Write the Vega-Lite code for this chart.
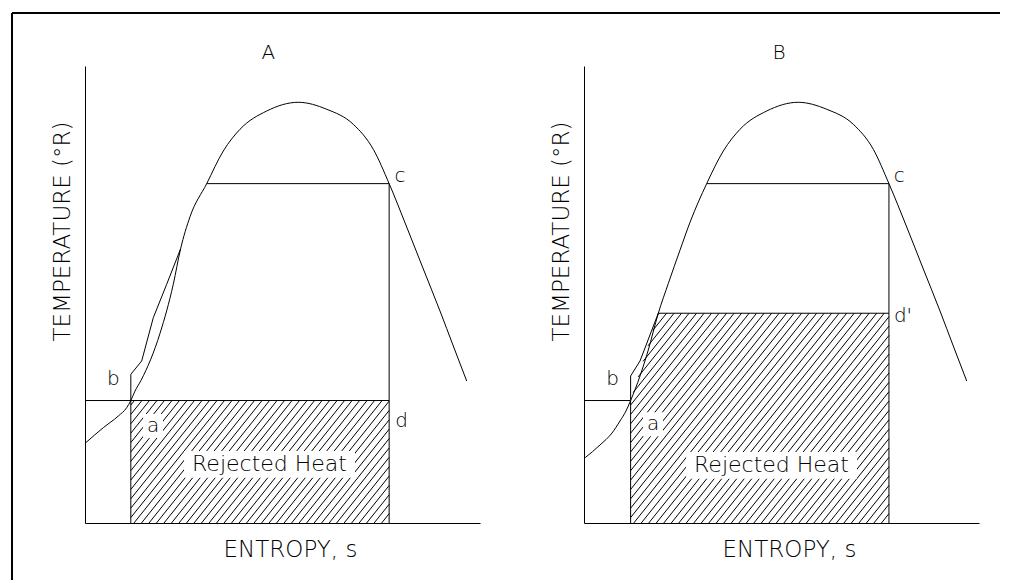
{
  "$schema": "https://vega.github.io/schema/vega-lite/v6.json",
  "padding": {"left": 11, "top": 11, "right": 0, "bottom": 0},
  "autosize": {"type": "pad"},
  "bounds": "flush",
  "spacing": 104,
  "background": "white",
  "config": {
    "view": {"stroke": null},
    "axis": {"domainColor": "black", "domainWidth": 1, "ticks": false, "labels": false, "grid": false,
             "titleFont": "DejaVu Sans", "titleFontSize": 23, "titleFontWeight": 200, "titleColor": "black",
             "titleAlign": "center", "titleBaseline": "middle"},
    "axisX": {"titleX": 205, "titleY": 26},
    "axisY": {"titleX": -23, "titleY": 165, "titleAngle": -90}
  },
  "datasets": {
    "frame": [
      {"s": -1.848, "T": 1116, "s2": -1.848, "T2": -125},
      {"s": -1.848, "T": 1116, "s2": 23.165, "T2": 1116}
    ],
    "curvesA": [
      {"seg": "dome", "i": 1, "s": 0.02, "T": 175.7},
      {"seg": "dome", "i": 2, "s": 0.463, "T": 208.5},
      {"seg": "dome", "i": 3, "s": 0.843, "T": 234.1},
      {"seg": "dome", "i": 4, "s": 1.056, "T": 252.3},
      {"seg": "dome", "i": 5, "s": 1.16, "T": 268},
      {"seg": "dome", "i": 6, "s": 1.266, "T": 288.8},
      {"seg": "dome", "i": 7, "s": 1.418, "T": 312},
      {"seg": "dome", "i": 8, "s": 1.899, "T": 415},
      {"seg": "dome", "i": 9, "s": 2.235, "T": 522.3},
      {"seg": "dome", "i": 10, "s": 2.42, "T": 600},
      {"seg": "dome", "i": 11, "s": 2.658, "T": 670},
      {"seg": "dome", "i": 12, "s": 3.081, "T": 742.6},
      {"seg": "dome", "i": 13, "s": 3.501, "T": 814.0},
      {"seg": "dome", "i": 14, "s": 3.924, "T": 861.5},
      {"seg": "dome", "i": 15, "s": 4.6, "T": 901.5},
      {"seg": "dome", "i": 16, "s": 5.4, "T": 920.6},
      {"seg": "dome", "i": 17, "s": 6.119, "T": 905.3},
      {"seg": "dome", "i": 18, "s": 6.792, "T": 872.4},
      {"seg": "dome", "i": 19, "s": 7.299, "T": 817.7},
      {"seg": "dome", "i": 20, "s": 7.7, "T": 742.6},
      {"seg": "dome", "i": 21, "s": 8.144, "T": 647.7},
      {"seg": "dome", "i": 22, "s": 8.565, "T": 555.8},
      {"seg": "dome", "i": 23, "s": 8.987, "T": 463.9},
      {"seg": "dome", "i": 24, "s": 9.324, "T": 387.3},
      {"seg": "dome", "i": 25, "s": 9.663, "T": 310.7},
      {"seg": "process", "i": 1, "s": 1.16, "T": 268},
      {"seg": "process", "i": 2, "s": 1.16, "T": 325.4},
      {"seg": "process", "i": 3, "s": 1.435, "T": 354.5},
      {"seg": "process", "i": 4, "s": 1.729, "T": 449.2},
      {"seg": "process", "i": 5, "s": 2.068, "T": 522.3},
      {"seg": "process", "i": 6, "s": 2.42, "T": 600}
    ],
    "rulesA": [
      {"s": 3.081, "T": 742.6, "s2": 7.7, "T2": 742.6},
      {"s": 7.7, "T": 742.6, "s2": 7.7, "T2": 0},
      {"s": 0, "T": 268, "s2": 7.7, "T2": 268},
      {"s": 1.16, "T": 0, "s2": 1.16, "T2": 268}
    ],
    "hatchA": [
      {"s": 7.51, "T": 0, "s2": 7.7, "T2": 20.52},
      {"s": 7.32, "T": 0, "s2": 7.7, "T2": 41.04},
      {"s": 7.13, "T": 0, "s2": 7.7, "T2": 61.56},
      {"s": 6.94, "T": 0, "s2": 7.7, "T2": 82.08},
      {"s": 6.75, "T": 0, "s2": 7.7, "T2": 102.6},
      {"s": 6.56, "T": 0, "s2": 7.7, "T2": 123.12},
      {"s": 6.37, "T": 0, "s2": 7.7, "T2": 143.64},
      {"s": 6.18, "T": 0, "s2": 7.7, "T2": 164.16},
      {"s": 5.99, "T": 0, "s2": 7.7, "T2": 184.68},
      {"s": 5.8, "T": 0, "s2": 7.7, "T2": 205.2},
      {"s": 5.61, "T": 0, "s2": 7.7, "T2": 225.72},
      {"s": 5.42, "T": 0, "s2": 7.7, "T2": 246.24},
      {"s": 5.23, "T": 0, "s2": 7.7, "T2": 266.76},
      {"s": 5.04, "T": 0, "s2": 7.5215, "T2": 268},
      {"s": 4.85, "T": 0, "s2": 7.3315, "T2": 268},
      {"s": 4.66, "T": 0, "s2": 7.1415, "T2": 268},
      {"s": 4.47, "T": 0, "s2": 6.9515, "T2": 268},
      {"s": 4.28, "T": 0, "s2": 6.7615, "T2": 268},
      {"s": 4.09, "T": 0, "s2": 6.5715, "T2": 268},
      {"s": 3.9, "T": 0, "s2": 6.3815, "T2": 268},
      {"s": 3.71, "T": 0, "s2": 6.1915, "T2": 268},
      {"s": 3.52, "T": 0, "s2": 6.0015, "T2": 268},
      {"s": 3.33, "T": 0, "s2": 5.8115, "T2": 268},
      {"s": 3.14, "T": 0, "s2": 5.6215, "T2": 268},
      {"s": 2.95, "T": 0, "s2": 5.4315, "T2": 268},
      {"s": 2.76, "T": 0, "s2": 5.2415, "T2": 268},
      {"s": 2.57, "T": 0, "s2": 5.0515, "T2": 268},
      {"s": 2.38, "T": 0, "s2": 4.8615, "T2": 268},
      {"s": 2.19, "T": 0, "s2": 4.6715, "T2": 268},
      {"s": 2.0, "T": 0, "s2": 4.4815, "T2": 268},
      {"s": 1.81, "T": 0, "s2": 4.2915, "T2": 268},
      {"s": 1.62, "T": 0, "s2": 4.1015, "T2": 268},
      {"s": 1.43, "T": 0, "s2": 3.9115, "T2": 268},
      {"s": 1.24, "T": 0, "s2": 3.7215, "T2": 268},
      {"s": 1.16, "T": 11.88, "s2": 3.5315, "T2": 268},
      {"s": 1.16, "T": 32.4, "s2": 3.3415, "T2": 268},
      {"s": 1.16, "T": 52.92, "s2": 3.1515, "T2": 268},
      {"s": 1.16, "T": 73.44, "s2": 2.9615, "T2": 268},
      {"s": 1.16, "T": 93.96, "s2": 2.7715, "T2": 268},
      {"s": 1.16, "T": 114.48, "s2": 2.5815, "T2": 268},
      {"s": 1.16, "T": 135.0, "s2": 2.3915, "T2": 268},
      {"s": 1.16, "T": 155.52, "s2": 2.2015, "T2": 268},
      {"s": 1.16, "T": 176.04, "s2": 2.0115, "T2": 268},
      {"s": 1.16, "T": 196.56, "s2": 1.8215, "T2": 268},
      {"s": 1.16, "T": 217.08, "s2": 1.6315, "T2": 268},
      {"s": 1.16, "T": 237.6, "s2": 1.4415, "T2": 268},
      {"s": 1.16, "T": 258.12, "s2": 1.2515, "T2": 268}
    ],
    "labelsA": [
      {"label": "A", "s": 4.641, "T": 1029},
      {"label": "b", "s": 0.716, "T": 314.4},
      {"label": "a", "s": 1.722, "T": 212.3},
      {"label": "c", "s": 7.975, "T": 759.3},
      {"label": "d", "s": 8.018, "T": 223.2},
      {"label": "Rejected Heat", "s": 4.671, "T": 128.4}
    ],
    "curvesB": [
      {"seg": "dome", "i": 1, "s": 0.03, "T": 143},
      {"seg": "dome", "i": 2, "s": 0.405, "T": 170.7},
      {"seg": "dome", "i": 3, "s": 0.709, "T": 196.9},
      {"seg": "dome", "i": 4, "s": 0.911, "T": 223.2},
      {"seg": "dome", "i": 5, "s": 1.063, "T": 245.1},
      {"seg": "dome", "i": 6, "s": 1.18, "T": 268},
      {"seg": "dome", "i": 7, "s": 1.418, "T": 321.7},
      {"seg": "dome", "i": 8, "s": 1.62, "T": 376.4},
      {"seg": "dome", "i": 9, "s": 1.881, "T": 459},
      {"seg": "dome", "i": 10, "s": 2.134, "T": 524},
      {"seg": "dome", "i": 11, "s": 2.43, "T": 597},
      {"seg": "dome", "i": 12, "s": 2.684, "T": 658},
      {"seg": "dome", "i": 13, "s": 3.106, "T": 742.6},
      {"seg": "dome", "i": 14, "s": 3.527, "T": 814.0},
      {"seg": "dome", "i": 15, "s": 3.949, "T": 861.5},
      {"seg": "dome", "i": 16, "s": 4.625, "T": 901.5},
      {"seg": "dome", "i": 17, "s": 5.425, "T": 920.6},
      {"seg": "dome", "i": 18, "s": 6.144, "T": 905.3},
      {"seg": "dome", "i": 19, "s": 6.818, "T": 872.4},
      {"seg": "dome", "i": 20, "s": 7.324, "T": 817.7},
      {"seg": "dome", "i": 21, "s": 7.72, "T": 742.6},
      {"seg": "dome", "i": 22, "s": 8.17, "T": 647.7},
      {"seg": "dome", "i": 23, "s": 8.59, "T": 555.8},
      {"seg": "dome", "i": 24, "s": 9.013, "T": 463.9},
      {"seg": "dome", "i": 25, "s": 9.349, "T": 387.3},
      {"seg": "dome", "i": 26, "s": 9.689, "T": 310.7},
      {"seg": "process", "i": 1, "s": 1.18, "T": 268},
      {"seg": "process", "i": 2, "s": 1.18, "T": 321.7},
      {"seg": "process", "i": 3, "s": 1.418, "T": 354.5},
      {"seg": "process", "i": 4, "s": 1.881, "T": 459}
    ],
    "rulesB": [
      {"s": 3.106, "T": 742.6, "s2": 7.72, "T2": 742.6},
      {"s": 7.72, "T": 742.6, "s2": 7.72, "T2": 0},
      {"s": 1.881, "T": 459, "s2": 7.72, "T2": 459},
      {"s": 0, "T": 268, "s2": 1.18, "T2": 268},
      {"s": 1.18, "T": 0, "s2": 1.18, "T2": 268}
    ],
    "hatchB": [
      {"s": 7.53, "T": 0, "s2": 7.72, "T2": 20.52},
      {"s": 7.34, "T": 0, "s2": 7.72, "T2": 41.04},
      {"s": 7.15, "T": 0, "s2": 7.72, "T2": 61.56},
      {"s": 6.96, "T": 0, "s2": 7.72, "T2": 82.08},
      {"s": 6.77, "T": 0, "s2": 7.72, "T2": 102.6},
      {"s": 6.58, "T": 0, "s2": 7.72, "T2": 123.12},
      {"s": 6.39, "T": 0, "s2": 7.72, "T2": 143.64},
      {"s": 6.2, "T": 0, "s2": 7.72, "T2": 164.16},
      {"s": 6.01, "T": 0, "s2": 7.72, "T2": 184.68},
      {"s": 5.82, "T": 0, "s2": 7.72, "T2": 205.2},
      {"s": 5.63, "T": 0, "s2": 7.72, "T2": 225.72},
      {"s": 5.44, "T": 0, "s2": 7.72, "T2": 246.24},
      {"s": 5.25, "T": 0, "s2": 7.72, "T2": 266.76},
      {"s": 5.06, "T": 0, "s2": 7.72, "T2": 287.28},
      {"s": 4.87, "T": 0, "s2": 7.72, "T2": 307.8},
      {"s": 4.68, "T": 0, "s2": 7.72, "T2": 328.32},
      {"s": 4.49, "T": 0, "s2": 7.72, "T2": 348.84},
      {"s": 4.3, "T": 0, "s2": 7.72, "T2": 369.36},
      {"s": 4.11, "T": 0, "s2": 7.72, "T2": 389.88},
      {"s": 3.92, "T": 0, "s2": 7.72, "T2": 410.4},
      {"s": 3.73, "T": 0, "s2": 7.72, "T2": 430.92},
      {"s": 3.54, "T": 0, "s2": 7.72, "T2": 451.44},
      {"s": 3.35, "T": 0, "s2": 7.6, "T2": 459},
      {"s": 3.16, "T": 0, "s2": 7.41, "T2": 459},
      {"s": 2.97, "T": 0, "s2": 7.22, "T2": 459},
      {"s": 2.78, "T": 0, "s2": 7.03, "T2": 459},
      {"s": 2.59, "T": 0, "s2": 6.84, "T2": 459},
      {"s": 2.4, "T": 0, "s2": 6.65, "T2": 459},
      {"s": 2.21, "T": 0, "s2": 6.46, "T2": 459},
      {"s": 2.02, "T": 0, "s2": 6.27, "T2": 459},
      {"s": 1.83, "T": 0, "s2": 6.08, "T2": 459},
      {"s": 1.64, "T": 0, "s2": 5.89, "T2": 459},
      {"s": 1.45, "T": 0, "s2": 5.7, "T2": 459},
      {"s": 1.26, "T": 0, "s2": 5.51, "T2": 459},
      {"s": 1.18, "T": 11.88, "s2": 5.32, "T2": 459},
      {"s": 1.18, "T": 32.4, "s2": 5.13, "T2": 459},
      {"s": 1.18, "T": 52.92, "s2": 4.94, "T2": 459},
      {"s": 1.18, "T": 73.44, "s2": 4.75, "T2": 459},
      {"s": 1.18, "T": 93.96, "s2": 4.56, "T2": 459},
      {"s": 1.18, "T": 114.48, "s2": 4.37, "T2": 459},
      {"s": 1.18, "T": 135.0, "s2": 4.18, "T2": 459},
      {"s": 1.18, "T": 155.52, "s2": 3.99, "T2": 459},
      {"s": 1.18, "T": 176.04, "s2": 3.8, "T2": 459},
      {"s": 1.18, "T": 196.56, "s2": 3.61, "T2": 459},
      {"s": 1.18, "T": 217.08, "s2": 3.42, "T2": 459},
      {"s": 1.18, "T": 237.6, "s2": 3.23, "T2": 459},
      {"s": 1.18, "T": 258.12, "s2": 3.04, "T2": 459},
      {"s": 1.2447, "T": 285.6, "s2": 2.85, "T2": 459},
      {"s": 1.3694, "T": 319.6, "s2": 2.66, "T2": 459},
      {"s": 1.4942, "T": 353.6, "s2": 2.47, "T2": 459},
      {"s": 1.6189, "T": 387.6, "s2": 2.28, "T2": 459},
      {"s": 1.7436, "T": 421.6, "s2": 2.09, "T2": 459},
      {"s": 1.8684, "T": 455.6, "s2": 1.9, "T2": 459}
    ],
    "labelsB": [
      {"label": "B", "s": 4.937, "T": 1029},
      {"label": "b", "s": 0.727, "T": 314.4},
      {"label": "a", "s": 1.747, "T": 216.0},
      {"label": "c", "s": 7.982, "T": 759.3},
      {"label": "d'", "s": 8.076, "T": 452},
      {"label": "Rejected Heat", "s": 4.747, "T": 126.3}
    ]
  },
  "hconcat": [
    {
      "width": 395,
      "height": 457,
      "encoding": {
        "x": {"field": "s", "type": "quantitative", "scale": {"domain": [0, 10], "nice": false, "zero": false}, "axis": {"title": "ENTROPY, s"}},
        "y": {"field": "T", "type": "quantitative", "scale": {"domain": [0, 1000], "nice": false, "zero": false}, "axis": {"title": "TEMPERATURE (°R)"}}
      },
      "layer": [
        {"data": {"name": "hatchA"}, "mark": {"type": "rule", "color": "black", "strokeWidth": 1}, "encoding": {"x2": {"field": "s2"}, "y2": {"field": "T2"}}},
        {"data": {"name": "labelsA"}, "transform": [{"filter": "datum.label == 'Rejected Heat'"}], "mark": {"type": "point", "shape": "M-6.4,-1H6.4V1H-6.4Z", "size": 713, "filled": true, "color": "white", "fill": "white", "strokeWidth": 0, "opacity": 1}},
        {"data": {"name": "labelsA"}, "transform": [{"filter": "datum.label == 'a'"}], "mark": {"type": "point", "shape": "M-0.83,-1H0.83V1H-0.83Z", "size": 576, "filled": true, "color": "white", "fill": "white", "strokeWidth": 0, "opacity": 1}},
        {"data": {"name": "rulesA"}, "mark": {"type": "rule", "color": "black", "strokeWidth": 1}, "encoding": {"x2": {"field": "s2"}, "y2": {"field": "T2"}}},
        {"data": {"name": "frame"}, "mark": {"type": "rule", "color": "black", "strokeWidth": 2}, "encoding": {"x2": {"field": "s2"}, "y2": {"field": "T2"}}},
        {"data": {"name": "curvesA"}, "transform": [{"filter": "datum.seg == 'dome'"}], "mark": {"type": "line", "color": "black", "strokeWidth": 1, "interpolate": "monotone"}, "encoding": {"order": {"field": "i", "type": "quantitative"}}},
        {"data": {"name": "curvesA"}, "transform": [{"filter": "datum.seg == 'process'"}], "mark": {"type": "line", "color": "black", "strokeWidth": 1}, "encoding": {"order": {"field": "i", "type": "quantitative"}}},
        {"data": {"name": "labelsA"}, "transform": [{"filter": "datum.label != 'Rejected Heat'"}], "mark": {"type": "text", "font": "DejaVu Sans", "fontSize": 20, "fontWeight": 200, "color": "black", "align": "center", "baseline": "middle"}, "encoding": {"text": {"field": "label", "type": "nominal"}}},
        {"data": {"name": "labelsA"}, "transform": [{"filter": "datum.label == 'Rejected Heat'"}], "mark": {"type": "text", "font": "DejaVu Sans", "fontSize": 22, "fontWeight": 200, "color": "black", "align": "center", "baseline": "middle"}, "encoding": {"text": {"field": "label", "type": "nominal"}}}
      ]
    },
    {
      "width": 395,
      "height": 457,
      "encoding": {
        "x": {"field": "s", "type": "quantitative", "scale": {"domain": [0, 10], "nice": false, "zero": false}, "axis": {"title": "ENTROPY, s"}},
        "y": {"field": "T", "type": "quantitative", "scale": {"domain": [0, 1000], "nice": false, "zero": false}, "axis": {"title": "TEMPERATURE (°R)"}}
      },
      "layer": [
        {"data": {"name": "hatchB"}, "mark": {"type": "rule", "color": "black", "strokeWidth": 1}, "encoding": {"x2": {"field": "s2"}, "y2": {"field": "T2"}}},
        {"data": {"name": "labelsB"}, "transform": [{"filter": "datum.label == 'Rejected Heat'"}], "mark": {"type": "point", "shape": "M-6.4,-1H6.4V1H-6.4Z", "size": 713, "filled": true, "color": "white", "fill": "white", "strokeWidth": 0, "opacity": 1}},
        {"data": {"name": "labelsB"}, "transform": [{"filter": "datum.label == 'a'"}], "mark": {"type": "point", "shape": "M-0.83,-1H0.83V1H-0.83Z", "size": 576, "filled": true, "color": "white", "fill": "white", "strokeWidth": 0, "opacity": 1}},
        {"data": {"name": "rulesB"}, "mark": {"type": "rule", "color": "black", "strokeWidth": 1}, "encoding": {"x2": {"field": "s2"}, "y2": {"field": "T2"}}},
        {"data": {"name": "curvesB"}, "transform": [{"filter": "datum.seg == 'dome'"}], "mark": {"type": "line", "color": "black", "strokeWidth": 1, "interpolate": "monotone"}, "encoding": {"order": {"field": "i", "type": "quantitative"}}},
        {"data": {"name": "curvesB"}, "transform": [{"filter": "datum.seg == 'process'"}], "mark": {"type": "line", "color": "black", "strokeWidth": 1}, "encoding": {"order": {"field": "i", "type": "quantitative"}}},
        {"data": {"name": "labelsB"}, "transform": [{"filter": "datum.label != 'Rejected Heat'"}], "mark": {"type": "text", "font": "DejaVu Sans", "fontSize": 20, "fontWeight": 200, "color": "black", "align": "center", "baseline": "middle"}, "encoding": {"text": {"field": "label", "type": "nominal"}}},
        {"data": {"name": "labelsB"}, "transform": [{"filter": "datum.label == 'Rejected Heat'"}], "mark": {"type": "text", "font": "DejaVu Sans", "fontSize": 22, "fontWeight": 200, "color": "black", "align": "center", "baseline": "middle"}, "encoding": {"text": {"field": "label", "type": "nominal"}}}
      ]
    }
  ]
}
